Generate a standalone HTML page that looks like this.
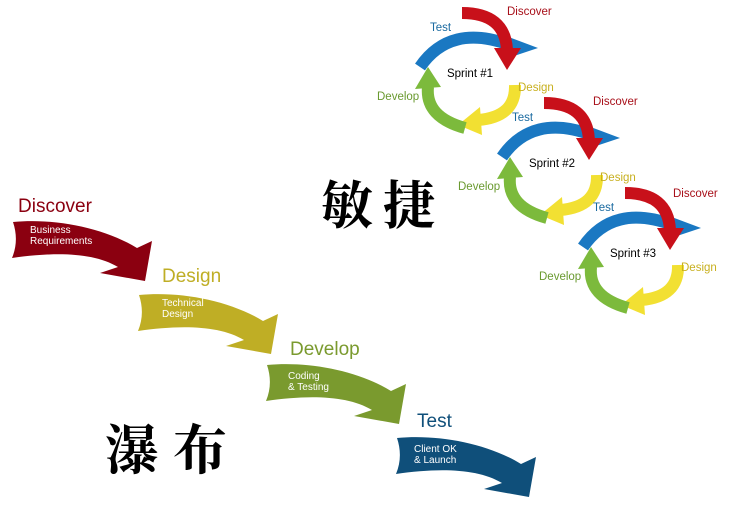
<!DOCTYPE html><html><head><meta charset="utf-8"><style>
body{margin:0;background:#fff;width:730px;height:530px;overflow:hidden}
svg{display:block}
.l{font-family:"Liberation Sans",sans-serif;font-size:11.5px}
</style></head><body>
<svg width="730" height="530" viewBox="0 0 730 530">
<defs>
<path id="wa" d="M0,0 C40,-4 90,5 124,26 L139,19 L132,59 L87,51 L105,45 C80,30 40,30 -1,36 C4,24 4,12 0,0 Z"/>
<g id="cyc">
<path d="M-50,-8 Q-20,-52 40,-30" fill="none" stroke="#1a78c2" stroke-width="12"/>
<polygon points="28,-42 68,-27 32,-15" fill="#1a78c2"/>
<path d="M-8,-62 Q35,-62 37,-25" fill="none" stroke="#c8101a" stroke-width="12"/>
<polygon points="24,-27 37,-5 51,-27" fill="#c8101a"/>
<path d="M45,10 Q46,42 8,45" fill="none" stroke="#f2e032" stroke-width="12"/>
<polygon points="10,32 -12,50 12,60" fill="#f2e032"/>
<path d="M-5,53 Q-45,42 -42,12" fill="none" stroke="#7cba3c" stroke-width="12"/>
<polygon points="-55,14 -42,-8 -29,12" fill="#7cba3c"/>
</g>
</defs>
<use href="#wa" transform="translate(13,222)" fill="#8b0010"/>
<use href="#wa" transform="translate(139,295)" fill="#bfae25"/>
<use href="#wa" transform="translate(267,365)" fill="#7a9a2e"/>
<use href="#wa" transform="translate(397,438)" fill="#0f4f7a"/>
<g font-family="Liberation Sans,sans-serif">
<text x="18" y="212" font-size="19" fill="#8b0010">Discover</text>
<text x="30" y="233" font-size="10" fill="#fff">Business</text>
<text x="30" y="244" font-size="10" fill="#fff">Requirements</text>
<text x="162" y="282" font-size="19" fill="#bfae25">Design</text>
<text x="162" y="306" font-size="10" fill="#fff">Technical</text>
<text x="162" y="317" font-size="10" fill="#fff">Design</text>
<text x="290" y="355" font-size="19" fill="#7a9a2e">Develop</text>
<text x="288" y="379" font-size="10" fill="#fff">Coding</text>
<text x="288" y="390" font-size="10" fill="#fff">&amp; Testing</text>
<text x="417" y="427" font-size="19" fill="#0f4f7a">Test</text>
<text x="414" y="452" font-size="10" fill="#fff">Client OK</text>
<text x="414" y="463" font-size="10" fill="#fff">&amp; Launch</text>
</g>
<g transform="translate(470,75)"><use href="#cyc"/>
<text class="l" x="-40" y="-44" fill="#1a6aa0">Test</text><text class="l" x="37" y="-60" fill="#a8101a">Discover</text>
<text class="l" x="0" y="2" text-anchor="middle" fill="#000">Sprint #1</text><text class="l" x="48" y="16" fill="#c8b020">Design</text><text class="l" x="-93" y="25" fill="#6a9a30">Develop</text></g>
<g transform="translate(552,165)"><use href="#cyc"/>
<text class="l" x="-40" y="-44" fill="#1a6aa0">Test</text><text class="l" x="41" y="-60" fill="#a8101a">Discover</text>
<text class="l" x="0" y="2" text-anchor="middle" fill="#000">Sprint #2</text><text class="l" x="48" y="16" fill="#c8b020">Design</text><text class="l" x="-94" y="25" fill="#6a9a30">Develop</text></g>
<g transform="translate(633,255)"><use href="#cyc"/>
<text class="l" x="-40" y="-44" fill="#1a6aa0">Test</text><text class="l" x="40" y="-58" fill="#a8101a">Discover</text>
<text class="l" x="0" y="2" text-anchor="middle" fill="#000">Sprint #3</text><text class="l" x="48" y="16" fill="#c8b020">Design</text><text class="l" x="-94" y="25" fill="#6a9a30">Develop</text></g>
<text x="321" y="224" font-family="Liberation Serif,Noto Serif CJK SC,serif" font-weight="bold" font-size="52" letter-spacing="10" fill="#000">敏捷</text>
<text x="105" y="469" font-family="Liberation Serif,Noto Serif CJK SC,serif" font-weight="bold" font-size="54" letter-spacing="14" fill="#000">瀑布</text>
</svg></body></html>
